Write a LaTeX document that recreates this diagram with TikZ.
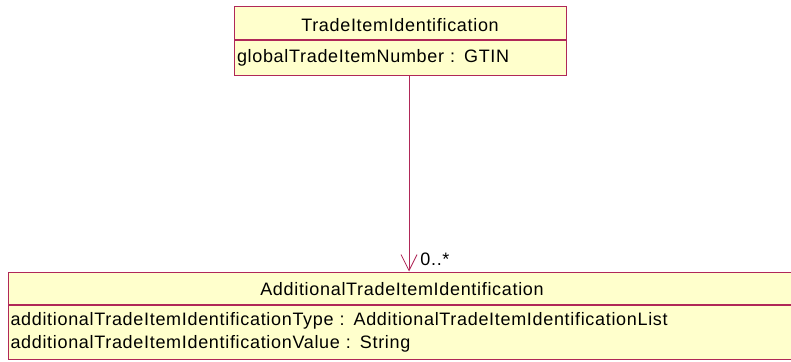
\documentclass[tikz,border=0pt]{standalone}
\usepackage{fontspec}
\setmainfont{Liberation Sans}[LetterSpace=3.8]
\usepackage{tikz}
\usetikzlibrary{positioning, arrows.meta}
\definecolor{umlborder}{HTML}{B02858}
\definecolor{umlfill}{HTML}{FFFFCC}
\tikzset{
x=1pt, y=-1pt, % one unit is one pixel of the layout, y goes down
classtitle/.style={draw=umlborder, fill=umlfill, line width=1pt, inner sep=0pt, anchor=base, font=\fontsize{18}{20}\selectfont}, % the name part of a class
classattr/.style={draw=umlborder, fill=umlfill, line width=1pt, inner ysep=0pt, inner xsep=3pt, font=\fontsize{18}{23.5}\selectfont, align=left, anchor=north west}, % the attribute part of a class
assoc/.style={draw=umlborder, line width=0.8pt, -{Straight Barb[length=16pt, width=16pt]}}, % navigable association
}
\begin{document}
\begin{tikzpicture}
        \useasboundingbox (0,0) rectangle (791,361);
        % upper class
        \node[classtitle, minimum width=332pt, text height=24pt, text depth=9pt] (tii) at (400,31) {TradeItemIdentification};
        \node[classattr, text width=326pt, text height=22pt, text depth=12pt] (tiiattr) at (tii.south west) {globalTradeItemNumber : GTIN};
        % lower class
        \node[classtitle, minimum width=800pt, text height=23pt, text depth=9pt, xshift=6pt] (atii) at (402,295) {\hspace*{-12pt}AdditionalTradeItemIdentification};
        \node[classattr, text width=795pt, inner ysep=7pt, inner xsep=2.5pt] (atiiattr) at (atii.south west)
        {additionalTradeItemIdentificationType : AdditionalTradeItemIdentificationList\\
        additionalTradeItemIdentificationValue : String};
        % association
        \draw[assoc] ([xshift=9pt]tiiattr.south -| tii.south) -- ([xshift=9pt]tii.south |- atii.north)
        node[anchor=base west, xshift=11pt, yshift=6pt, inner sep=0pt, font=\fontsize{18}{20}\selectfont] (mult) {0..*};
    \end{tikzpicture}
\end{document}
